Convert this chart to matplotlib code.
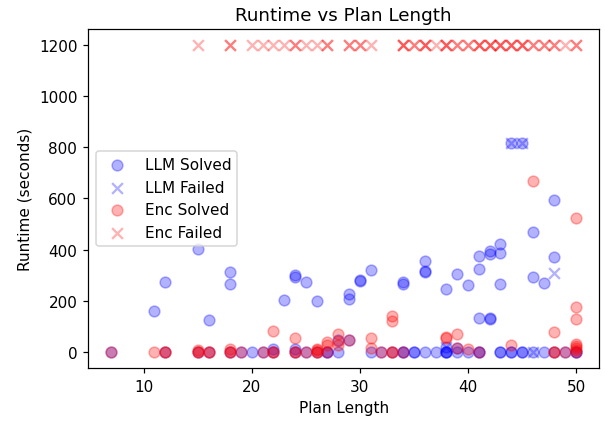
import matplotlib
matplotlib.use('Agg')
import matplotlib.pyplot as plt

# LLM solved runs (plan length, runtime in seconds)
llm_solved_x = [7, 12, 15, 16, 18, 19, 20, 21, 22, 24, 25, 26, 27, 27, 28, 31, 32, 33, 34, 34,
                35, 35, 36, 37, 38, 38, 38, 39, 40, 41, 41, 43, 43, 44, 44, 45, 45, 46, 47, 48,
                49, 50, 50,
                22, 24, 38, 39,
                11, 12, 15, 16, 18, 18, 23, 24, 24, 25, 26, 28, 29, 29, 29, 30, 30, 31, 34, 34,
                36, 36, 36, 38, 39, 40, 41, 41, 41, 42, 42, 42, 42, 43, 43, 43, 44, 45, 46, 46,
                47, 48, 48]
llm_solved_y = [0, 1, 0, 0, 1, 0, 0, 1, 0, 1, 0, 1, 0, 2, 0, 1, 0, 1, 0, 2,
                0, 1, 0, 0, 0, 1, 2, 0, 1, 0, 1, 0, 1, 0, 1, 0, 1, 0, 0, 0,
                0, 0, 2,
                12, 12, 22, 18,
                162, 276, 405, 128, 312, 268, 206, 300, 296, 276, 199, 50, 50, 226, 207, 282, 278, 322, 275, 265,
                358, 318, 312, 246, 304, 261, 375, 327, 133, 133, 131, 395, 382, 423, 388, 268, 815, 815, 469, 296,
                271, 593, 373]

# LLM failed runs
llm_failed_x = [38, 44, 45, 46, 48]
llm_failed_y = [20, 815, 815, 0, 310]

# Encoding solved runs
enc_solved_x = [7, 11, 12, 12, 15, 15, 16, 16, 18, 18, 19, 21, 22, 22, 24, 24, 25, 26, 26, 27,
                32, 33, 33, 34, 41, 48, 48, 49, 50,
                15, 18, 26, 26, 27, 28, 31, 39, 40, 50, 50, 50, 50,
                22, 24, 27, 28, 28, 29, 31, 33, 33, 38, 38, 39, 44, 46, 48, 50, 50, 50]
enc_solved_y = [0, 0, 0, 1, 0, 2, 0, 1, 0, 1, 0, 0, 0, 1, 0, 1, 0, 0, 2, 0,
                0, 0, 1, 0, 0, 0, 1, 0, 0,
                10, 12, 12, 8, 30, 30, 18, 18, 12, 8, 16, 24, 34,
                83, 57, 39, 71, 45, 50, 58, 142, 123, 56, 62, 71, 28, 667, 78, 524, 177, 132]

# Encoding failed runs (timeout at 1200 s)
enc_failed_x = [15, 18, 18, 20, 21, 22, 23, 24, 24, 25, 26, 27, 27, 29, 29, 30, 30, 31,
                34, 34, 34, 35, 35, 36, 36, 36, 37, 38, 38, 38, 39, 39, 40, 40,
                41, 41, 41, 42, 42, 42, 43, 43, 43, 44, 44, 44, 45, 45, 45,
                46, 46, 47, 47, 48, 48, 49, 50, 50]
enc_failed_y = [1200] * len(enc_failed_x)

fig = plt.figure(figsize=(5.5, 3.8545), dpi=110)
ax = fig.add_subplot(111)
fig.subplots_adjust(left=0.1455, right=0.9905, bottom=0.13, top=0.929)

ax.scatter(llm_solved_x, llm_solved_y, color='blue', alpha=0.3, s=50, marker='o', label='LLM Solved')
ax.scatter(llm_failed_x, llm_failed_y, color='blue', alpha=0.3, s=50, marker='x', label='LLM Failed')
ax.scatter(enc_solved_x, enc_solved_y, color='red', alpha=0.3, s=50, marker='o', label='Enc Solved')
ax.scatter(enc_failed_x, enc_failed_y, color='red', alpha=0.3, s=50, marker='x', label='Enc Failed')

ax.set_title('Runtime vs Plan Length')
ax.set_xlabel('Plan Length')
ax.set_ylabel('Runtime (seconds)')
ax.legend(loc='center left')

fig.savefig('out.png', dpi=110)
